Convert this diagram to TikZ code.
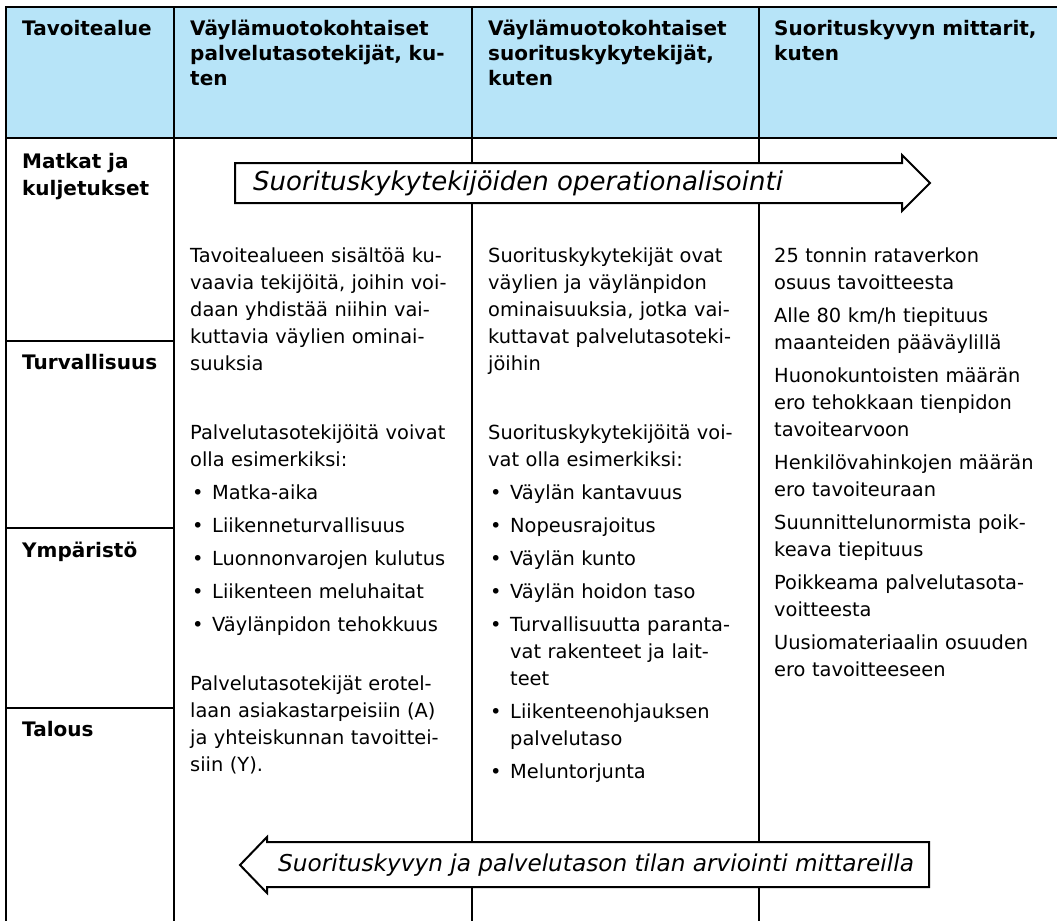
\documentclass[tikz,border=0pt]{standalone}
\usepackage{fontspec}
\setmainfont{DejaVu Sans}
\usepackage{tikz}
\usepackage{xcolor}
\usetikzlibrary{positioning, calc}
\definecolor{cHead}{HTML}{B7E4F8}
\definecolor{cRule}{HTML}{000000}

\newcommand{\bulmark}{\makebox[22pt][l]{\hspace*{2pt}\textbullet}}
\newcommand{\bulind}{\hspace*{22pt}}

\tikzset{
  rule/.style={line width=2pt, cRule},
  hdr/.style={anchor=base west, inner sep=0pt, align=left, text width=280pt,
    font=\fontsize{20}{25}\selectfont\bfseries},
  area/.style={anchor=base west, inner sep=0pt, align=left, text width=150pt,
    font=\fontsize{20}{27}\selectfont\bfseries},
  cell/.style={anchor=base west, inner sep=0pt, align=left, text width=300pt,
    font=\fontsize{19.4}{27}\selectfont},
  flow/.style={draw=cRule, line width=2pt, fill=white, line join=miter},
  flowtxt/.style={inner sep=0pt, font=\fontsize{23.2}{26}\selectfont\itshape},
}

\begin{document}
\begin{tikzpicture}[x=1pt, y=-1pt]
  \useasboundingbox (0,0) rectangle (1057,921);
  % header row and grid
  \fill[cHead] (6,7) rectangle (1057,138);
  \draw[rule] (1057,7) -- (6,7) -- (6,921);
  \draw[rule] (6,138) -- (1057,138);
  \foreach \cx in {174,472,759} \draw[rule] (\cx,7) -- (\cx,921);
  \foreach \ry in {341,528,708} \draw[rule] (6,\ry) -- (174,\ry);

  % column heads
  \node[hdr] (hArea) at (22,35) {Tavoitealue};
  \node[hdr] (hService) at (190,35) {Väylämuotokohtaiset\\palvelutasotekijät, ku-\\ten};
  \node[hdr] (hPerf) at (488,35) {Väylämuotokohtaiset\\suorituskykytekijät,\\kuten};
  \node[hdr] (hMeter) at (774,35) {Suorituskyvyn mittarit,\\kuten};

  % target areas
  \node[area] (aTrip) at (22,168) {Matkat ja\\kuljetukset};
  \node[area] (aSafe) at (22,369) {Turvallisuus};
  \node[area] (aEnv) at (22,557) {Ympäristö};
  \node[area] (aEco) at (22,736) {Talous};

  % service level factors
  \node[cell] (srvIntro) at (190,262) {Tavoitealueen sisältöä ku-\\vaavia tekijöitä, joihin voi-\\daan yhdistää niihin vai-\\kuttavia väylien ominai-\\suuksia};
  \node[cell] (srvEx) at (190,439) {Palvelutasotekijöitä voivat\\olla esimerkiksi:\\[6pt]\bulmark Matka-aika\\[6pt]\bulmark Liikenneturvallisuus\\[6pt]\bulmark Luonnonvarojen kulutus\\[6pt]\bulmark Liikenteen meluhaitat\\[6pt]\bulmark Väylänpidon tehokkuus};
  \node[cell] (srvSplit) at (190,690) {Palvelutasotekijät erotel-\\laan asiakastarpeisiin (A)\\ja yhteiskunnan tavoittei-\\siin (Y).};

  % performance factors
  \node[cell] (kykIntro) at (488,262) {Suorituskykytekijät ovat\\väylien ja väylänpidon\\ominaisuuksia, jotka vai-\\kuttavat palvelutasoteki-\\jöihin};
  \node[cell] (kykEx) at (488,439) {Suorituskykytekijöitä voi-\\vat olla esimerkiksi:\\[6pt]\bulmark Väylän kantavuus\\[6pt]\bulmark Nopeusrajoitus\\[6pt]\bulmark Väylän kunto\\[6pt]\bulmark Väylän hoidon taso\\[6pt]\bulmark Turvallisuutta paranta-\\\bulind vat rakenteet ja lait-\\\bulind teet\\[6pt]\bulmark Liikenteenohjauksen\\\bulind palvelutaso\\[6pt]\bulmark Meluntorjunta};

  % meters
  \node[cell] (mtr) at (774,262) {25 tonnin rataverkon\\osuus tavoitteesta\\[6pt]Alle 80 km/h tiepituus\\maanteiden pääväylillä\\[6pt]Huonokuntoisten määrän\\ero tehokkaan tienpidon\\tavoitearvoon\\[6pt]Henkilövahinkojen määrän\\ero tavoiteuraan\\[6pt]Suunnittelunormista poik-\\keava tiepituus\\[6pt]Poikkeama palvelutasota-\\voitteesta\\[6pt]Uusiomateriaalin osuuden\\ero tavoitteeseen};

  % big arrows
  \draw[flow] (235,163) -- (902,163) -- (902,155) -- (930,183) -- (902,211) -- (902,203) -- (235,203) -- cycle;
  \node[flowtxt, anchor=west, font=\fontsize{26}{28}\selectfont\itshape] (opTxt) at (253,183) {Suorituskykytekijöiden operationalisointi};
  \draw[flow] (240,865) -- (267,837) -- (267,842) -- (929,842) -- (929,887) -- (267,887) -- (267,893) -- cycle;
  \node[flowtxt] (evalTxt) at (596,865) {Suorituskyvyn ja palvelutason tilan arviointi mittareilla};
\end{tikzpicture}
\end{document}
